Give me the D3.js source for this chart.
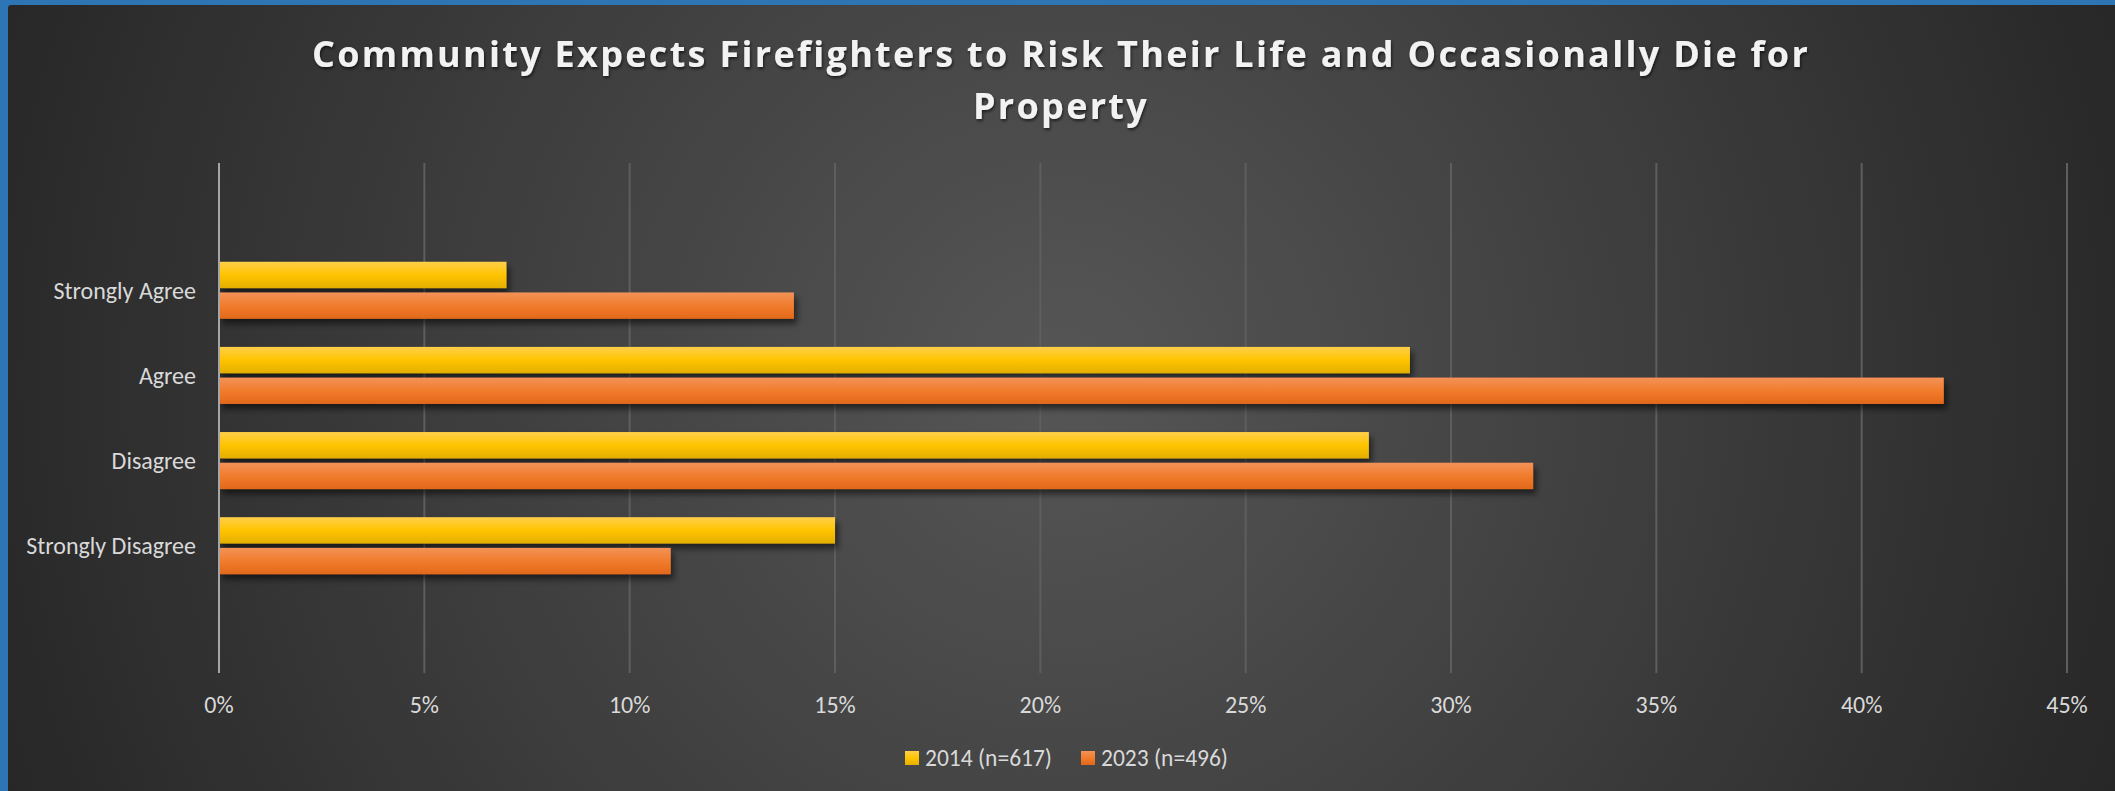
<!DOCTYPE html>
<html>
<head>
<meta charset="utf-8">
<script src="https://cdn.jsdelivr.net/npm/d3@7"></script>
<style>
    html, body { margin:0; padding:0; background:#2e75b6; overflow:hidden; }
    svg { display:block; }
    .cat text, .xaxis text, .legend text { fill:#d9d9d9; font-family:Carlito, Lato, "Open Sans", sans-serif; }
</style>
</head>
<body>
<svg id="chart"></svg>
<script>
(function() {
    'use strict';

    var categories = ['Strongly Agree', 'Agree', 'Disagree', 'Strongly Disagree'];
    var series = ['2014 (n=617)', '2023 (n=496)'];
    var values2014 = [7, 29, 28, 15];
    var values2023 = [14, 42, 32, 11];
    var xTicks = [0, 5, 10, 15, 20, 25, 30, 35, 40, 45];
    var titleLines = ['Community Expects Firefighters to Risk Their Life and Occasionally Die for', 'Property'];

    var W = 2115, H = 791;

    var svg = d3.select('#chart')
        .attr('width', W)
        .attr('height', H);

    var defs = svg.append('defs');

    var bg = defs.append('radialGradient')
        .attr('id', 'bg')
        .attr('gradientUnits', 'userSpaceOnUse')
        .attr('cx', 1060).attr('cy', 380).attr('r', 1150);
    bg.append('stop').attr('offset', '0').attr('stop-color', '#565656');
    bg.append('stop').attr('offset', '0.55').attr('stop-color', '#3c3c3c');
    bg.append('stop').attr('offset', '1').attr('stop-color', '#262626');

    function barGrad(id, stops) {
        var g = defs.append('linearGradient')
            .attr('id', id)
            .attr('x1', 0).attr('y1', 0).attr('x2', 0).attr('y2', 1);
        stops.forEach(function(s) {
            g.append('stop').attr('offset', s[0]).attr('stop-color', s[1]);
        });
    }
    barGrad('g2014', [[0, '#ffcf4a'], [0.5, '#ffc400'], [1, '#e3ae00']]);
    barGrad('g2023', [[0, '#f39257'], [0.55, '#f07a2a'], [1, '#e2681a']]);

    var shadow = defs.append('filter')
        .attr('id', 'shadow')
        .attr('x', '-5%').attr('y', '-30%').attr('width', '110%').attr('height', '190%');
    shadow.append('feDropShadow')
        .attr('dx', 3).attr('dy', 5)
        .attr('stdDeviation', 3)
        .attr('flood-color', '#000')
        .attr('flood-opacity', 0.55);

    var tshadow = defs.append('filter').attr('id', 'tshadow');
    tshadow.append('feDropShadow')
        .attr('dx', 1).attr('dy', 2)
        .attr('stdDeviation', 1.5)
        .attr('flood-color', '#000')
        .attr('flood-opacity', 0.6);

    // chart area (blue frame shows at top and left)
    svg.append('rect')
        .attr('x', 8).attr('y', 5)
        .attr('width', W).attr('height', H)
        .attr('rx', 3)
        .attr('fill', 'url(#bg)');

    /******************************************************************
        title
     ******************************************************************/
    var title = svg.append('g').attr('filter', 'url(#tshadow)');
    title.selectAll('text')
        .data(titleLines).enter()
            .append('text')
            .attr('x', 1061)
            .attr('y', function(d, i) { return 67 + i * 52; })
            .attr('text-anchor', 'middle')
            .attr('fill', '#f2f2f2')
            .style('font-family', '"Open Sans", sans-serif')
            .style('font-weight', 700)
            .style('font-size', '36px')
            .style('letter-spacing', '2.3px')
            .text(function(d) { return d; });

    /******************************************************************
        scales
     ******************************************************************/
    var left = 219, right = 2067, top = 163, bottom = 673;

    var x = d3.scaleLinear().domain([0, 45]).range([left, right]);

    var y = d3.scaleBand()
        .domain(categories)
        .range([top, bottom])
        .paddingInner(0.33)
        .paddingOuter(1.16);

    var y1 = d3.scaleBand()
        .domain(series)
        .range([0, y.bandwidth()])
        .paddingInner(0.14);

    // gridlines
    svg.append('g').selectAll('line')
        .data(xTicks.slice(1)).enter()
            .append('line')
            .attr('x1', function(d) { return x(d); })
            .attr('x2', function(d) { return x(d); })
            .attr('y1', top).attr('y2', bottom)
            .attr('stroke', '#5e5e5e')
            .attr('stroke-width', 2);

    /******************************************************************
        bars
     ******************************************************************/
    var rows = categories.map(function(c, i) {
        return { cat:c, vals:[ { s:series[0], v:values2014[i], f:'url(#g2014)' },
                               { s:series[1], v:values2023[i], f:'url(#g2023)' } ] };
    });

    var groups = svg.append('g').selectAll('.row')
        .data(rows).enter()
            .append('g')
            .attr('class', 'row')
            .attr('transform', function(d) { return 'translate(0,' + y(d.cat) + ')'; });

    groups.selectAll('rect')
        .data(function(d) { return d.vals; }).enter()
            .append('rect')
            .attr('x', x(0))
            .attr('y', function(d) { return y1(d.s); })
            .attr('width', function(d) { return x(d.v) - x(0); })
            .attr('height', y1.bandwidth())
            .attr('fill', function(d) { return d.f; })
            .attr('filter', 'url(#shadow)');

    // vertical axis line
    svg.append('line')
        .attr('x1', x(0)).attr('x2', x(0))
        .attr('y1', top).attr('y2', bottom)
        .attr('stroke', '#a6a6a6')
        .attr('stroke-width', 2);

    // category labels
    svg.append('g').attr('class', 'cat').selectAll('text')
        .data(categories).enter()
            .append('text')
            .attr('x', 196)
            .attr('y', function(d) { return y(d) + y.bandwidth() / 2; })
            .attr('dy', '0.35em')
            .attr('text-anchor', 'end')
            .style('font-size', '24px')
            .text(function(d) { return d; });

    // x tick labels
    svg.append('g').attr('class', 'xaxis').selectAll('text')
        .data(xTicks).enter()
            .append('text')
            .attr('x', function(d) { return x(d); })
            .attr('y', 705)
            .attr('dy', '0.35em')
            .attr('text-anchor', 'middle')
            .style('font-size', '24px')
            .text(function(d) { return d + '%'; });

    /******************************************************************
        legend
     ******************************************************************/
    var legend = svg.append('g').attr('class', 'legend');
    var lx = [905, 1081];

    legend.selectAll('rect')
        .data(series).enter()
            .append('rect')
            .attr('x', function(d, i) { return lx[i]; })
            .attr('y', 751)
            .attr('width', 14).attr('height', 14)
            .attr('fill', function(d, i) { return i ? 'url(#g2023)' : 'url(#g2014)'; });

    legend.selectAll('text')
        .data(series).enter()
            .append('text')
            .attr('x', function(d, i) { return lx[i] + 20; })
            .attr('y', 758)
            .attr('dy', '0.35em')
            .style('font-size', '23.5px')
            .text(function(d) { return d; });
})();
</script>
</body>
</html>
